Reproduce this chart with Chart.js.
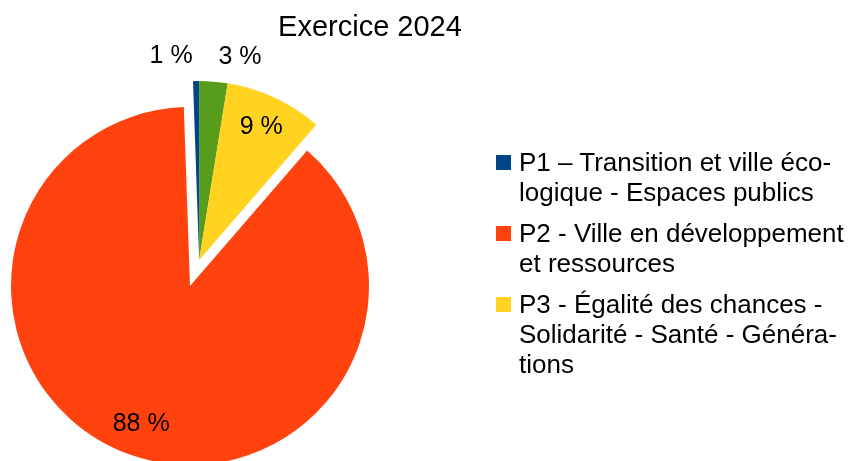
<!DOCTYPE html>
<html lang="fr">
<head>
<meta charset="utf-8">
<script src="https://cdn.jsdelivr.net/npm/chart.js@4.4.1/dist/chart.umd.min.js"></script>
<style>
  html, body { margin: 0; padding: 0; background: #fff; }
  #wrap { position: relative; width: 848px; height: 461px; overflow: hidden; font-family: "Liberation Sans", Arial, sans-serif; color: #000; }
  #chartctx { position: absolute; left: 0; top: 0; }
  #chartTitle { position: absolute; left: 270px; top: 12px; width: 200px; text-align: center; font-size: 29px; line-height: 28px; white-space: nowrap; }
  #chartLegend { position: absolute; left: 496px; top: 147px; font-size: 26px; line-height: 30px; }
  #chartLegend .item { display: flex; margin-bottom: 11px; }
  #chartLegend .box { flex: none; width: 15px; height: 15px; margin-top: 8px; margin-right: 8px; }
  #chartLegend .text { white-space: nowrap; }
</style>
</head>
<body>
<div id="wrap">
  <canvas id="chartctx" width="848" height="461"></canvas>
  <div id="chartTitle"></div>
  <div id="chartLegend"></div>
</div>
<script>
const chartTitle = 'Exercice 2024'

// series in the original order (the source draws them counter-clockwise from 12 o'clock)
const categories = [
  ['P1 – Transition et ville éco-', 'logique - Espaces publics'],
  ['P2 - Ville en développement', 'et ressources'],
  ['P3 - Égalité des chances -', 'Solidarité - Santé - Généra-', 'tions'],
  ['P4'],
]
const values = [0.55, 88.1, 8.8, 2.55]
const colors = ['#004586', '#ff420e', '#ffd320', '#579d1c']
const exploded = [true, false, true, true]
const inLegend = [true, true, true, false]

const explodeDistance = 27.5
const pieRadius = 179

// Chart.js only goes clockwise, so reverse to get the same layout
const order = values.map((v, i) => i).reverse()
const chartValues = order.map(i => values[i])
const chartColors = order.map(i => colors[i])
const chartExploded = order.map(i => exploded[i])
const chartLabels = order.map(i => categories[i].join(' '))

const renderLegend = () => {
  const legendContainer = document.getElementById('chartLegend')
  legendContainer.innerHTML = categories.reduce((acc, lines, idx) => {
    if (!inLegend[idx]) {
      return acc
    }
    return acc + `
      <div class="item">
        <span class="box" style="background:${colors[idx]}"></span>
        <div class="text">${lines.join('<br>')}</div>
      </div>`
  }, '')
}

// move the exploded slices together, along the bisector of the whole group
const explodePlugin = {
  id: 'explode',
  afterUpdate(chart) {
    const arcs = chart.getDatasetMeta(0).data
    let vx = 0
    let vy = 0
    arcs.forEach((arc, i) => {
      if (!chartExploded[i]) return
      const span = arc.endAngle - arc.startAngle
      const mid = (arc.startAngle + arc.endAngle) / 2
      vx += Math.cos(mid) * span
      vy += Math.sin(mid) * span
    })
    const len = Math.hypot(vx, vy) || 1
    arcs.forEach((arc, i) => {
      if (!chartExploded[i]) return
      arc.x += vx / len * explodeDistance
      arc.y += vy / len * explodeDistance
    })
  }
}

const percentLabels = {
  id: 'percentLabels',
  afterDatasetsDraw(chart) {
    const ctx = chart.ctx
    const arcs = chart.getDatasetMeta(0).data
    const sum = chartValues.reduce((a, b) => a + b, 0)
    ctx.save()
    ctx.font = '25px "Liberation Sans", Arial, sans-serif'
    ctx.fillStyle = '#000'
    ctx.textBaseline = 'middle'
    arcs.forEach((arc, i) => {
      const pct = chartValues[i] / sum * 100
      const mid = (arc.startAngle + arc.endAngle) / 2
      const text = Math.round(pct) + ' %'
      if (pct < 5) {
        const r = arc.outerRadius + 25
        const x = arc.x + Math.cos(mid) * r
        const y = arc.y + Math.sin(mid) * r
        const left = Math.cos(mid) < 0
        ctx.textAlign = left ? 'right' : 'left'
        ctx.fillText(text, x + (left ? -3 : 3), y)
      } else {
        const r = arc.outerRadius * 0.82
        ctx.textAlign = 'center'
        ctx.fillText(text, arc.x + Math.cos(mid) * r, arc.y + Math.sin(mid) * r)
      }
    })
    ctx.restore()
  }
}

document.getElementById('chartTitle').textContent = chartTitle
renderLegend()

new Chart(document.getElementById('chartctx'), {
  type: 'pie',
  data: {
    labels: chartLabels,
    datasets: [{
      data: chartValues,
      backgroundColor: chartColors,
      borderWidth: 0,
      radius: pieRadius,
    }]
  },
  options: {
    responsive: false,
    animation: false,
    events: [],
    rotation: 0,
    layout: {
      padding: { left: 0, right: 468, top: 111, bottom: 0 }
    },
    plugins: {
      legend: { display: false },
      tooltip: { enabled: false },
      title: { display: false },
    }
  },
  plugins: [explodePlugin, percentLabels]
})
</script>
</body>
</html>
